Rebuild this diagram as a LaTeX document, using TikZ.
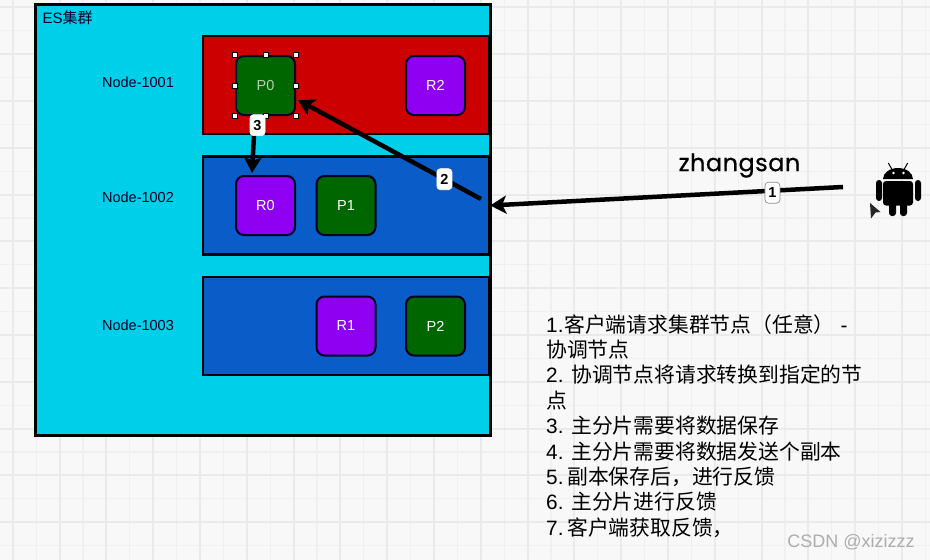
\documentclass[tikz,border=0pt]{standalone}
\usepackage{fontspec}
\setmainfont{Liberation Sans}
\newfontfamily\cjk{Noto Sans CJK SC}
\newfontfamily\nickfont[LetterSpace=2,FakeBold=0.6]{Poppins}
\usetikzlibrary{arrows.meta}
\definecolor{paper}{HTML}{F8F8F8}
\definecolor{gridbig}{HTML}{EAEAEA}
\definecolor{gridsmall}{HTML}{F0F0F0}
\definecolor{clustercol}{HTML}{00CFEA}
\definecolor{redcol}{HTML}{CC0000}
\definecolor{bluecol}{HTML}{0A5CC8}
\definecolor{primcol}{HTML}{006600}
\definecolor{replcol}{HTML}{8F00F2}
\tikzset{
  region/.style={draw=black, line width=2.5pt, inner sep=0pt, minimum width=286pt, minimum height=98pt},
  shard/.style={draw=black!85!blue, line width=2pt, rounded corners=8pt, inner sep=0pt, minimum size=59pt, text=white, font=\fontsize{14.5}{16}\selectfont},
  hostlabel/.style={text=black!85!blue, font=\fontsize{14.5}{16}\selectfont},
  handle/.style={draw=black, line width=0.5pt, fill=white, inner sep=0pt, minimum size=5pt},
  conn/.style={draw=black, line width=4.5pt, -{Stealth[length=16pt,width=18pt,inset=4pt]}},
  tag/.style={draw=#1, line width=0.7pt, fill=white, rounded corners=3.5pt, inner sep=0pt, minimum width=15pt, minimum height=21pt, font=\bfseries\fontsize{14.5}{16}\selectfont},
  tag/.default=white
}
\begin{document}
\begin{tikzpicture}[x=1pt, y=-1pt]
\useasboundingbox[fill=paper] (0,0) rectangle (930,560);
\begin{scope}
\clip (0,0) rectangle (930,560);
\begin{scope}[shift={(12.7,7.3)}]
\draw[gridsmall, line width=1.2pt, step=23.4pt] (-23.4,-23.4) grid (936,562);
\draw[gridbig, line width=2pt, step=46.8pt] (-46.8,-46.8) grid (936,562);
\end{scope}
\end{scope}
% cluster and its hosts
\node(cluster) [draw=black, line width=3pt, fill=clustercol, inner sep=0pt, minimum width=455pt, minimum height=431pt] at (262.5,219.5) {};
\node(estitle) [anchor=west, text=black!85!blue, font=\fontsize{15}{16}\selectfont] at (39,18) {ES{\cjk 集群}};
\node(n1001) [region, fill=redcol] at (346,85) {};
\node(n1002) [region, fill=bluecol, below of=n1001, node distance=120.5pt] {};
\node(n1003) [region, fill=bluecol, below of=n1002, node distance=120.5pt] {};
\node(l1001) [hostlabel, left of=n1001, node distance=208pt, yshift=3pt] {Node-1001};
\node(l1002) [hostlabel, left of=n1002, node distance=208pt, yshift=8pt] {Node-1002};
\node(l1003) [hostlabel, left of=n1003, node distance=208pt, yshift=1pt] {Node-1003};
% shards
\node(P0) [shard, fill=primcol, text=white!70!primcol] at (265.5,85.5) {P0};
\node(R2) [shard, fill=replcol, right of=P0, node distance=170pt] {R2};
\node(R0) [shard, fill=replcol, below of=P0, node distance=120pt] {R0};
\node(P1) [shard, fill=primcol, right of=R0, node distance=80.5pt] {P1};
\node(R1) [shard, fill=replcol, below of=P1, node distance=120.5pt] {R1};
\node(P2) [shard, fill=primcol, right of=R1, node distance=89.5pt] {P2};
\foreach \a in {north west,north,north east,west,east,south west,south,south east}
  \node(h \a) [handle] at (P0.\a) {};
% phone
\begin{scope}
\fill[black] (883,179) arc[start angle=180, end angle=0, x radius=15pt, y radius=11pt] -- cycle;
\fill[black, rounded corners=3pt] (883,181) -- (913,181) -- (913,205.5) -- (883,205.5) -- cycle;
\fill[black, rounded corners=3pt] (876,180) rectangle (882,201);
\fill[black, rounded corners=3pt] (915,180) rectangle (921,201);
\fill[black, rounded corners=3pt] (889,200) rectangle (896,216);
\fill[black, rounded corners=3pt] (900,200) rectangle (907,216);
\draw[black, line width=1pt] (888.3,163) -- (891.7,169) (907.7,163) -- (904.3,169);
\fill[white] (893.5,173) circle[radius=1.3pt] (903.5,173) circle[radius=1.3pt];
\fill[black!85] (870,203) -- (880.5,212) -- (875.5,212.5) -- (871,218.5) -- cycle;
\end{scope}
% connectors
\coordinate(phone) at (843,187);
\coordinate(hop) at (481,199);
\coordinate(p0in) at (298,100);
\coordinate(p0out) at (255,116);
\coordinate(r0in) at (252,173);
\path[conn] (phone) to node [tag=black!45, pos=0.2, yshift=-2pt] {1} (n1002.east);
\path[conn] (hop) to node [tag, pos=0.2] {2} (p0in);
\path[conn] (p0out) to node [tag, pos=0.16, xshift=3pt] {3} (r0in);
\node(nick) [font=\nickfont\fontsize{24}{26}\selectfont] at (739.5,165.5) {zhangsan};
% steps
\node(steps) [anchor=north west, inner sep=0pt, align=left, text=black, font=\fontsize{20.8}{25.4}\selectfont] at (546,314) {%
1.\kern-5pt\ {\cjk 客户端请求集群节点（任意）} -\\
{\cjk 协调节点}\\
2. {\cjk 协调节点将请求转换到指定的节}\\
{\cjk 点}\\
3. {\cjk 主分片需要将数据保存}\\
4. {\cjk 主分片需要将数据发送个副本}\\
5.\kern-2pt\ {\cjk 副本保存后，进行反馈}\\
6. {\cjk 主分片进行反馈}\\
7.\kern-2pt\ {\cjk 客户端获取反馈，}};
\node(mark) [text=black!32, font=\fontsize{18}{20}\selectfont] at (851,542) {CSDN @xizizzz};
\end{tikzpicture}
\end{document}
